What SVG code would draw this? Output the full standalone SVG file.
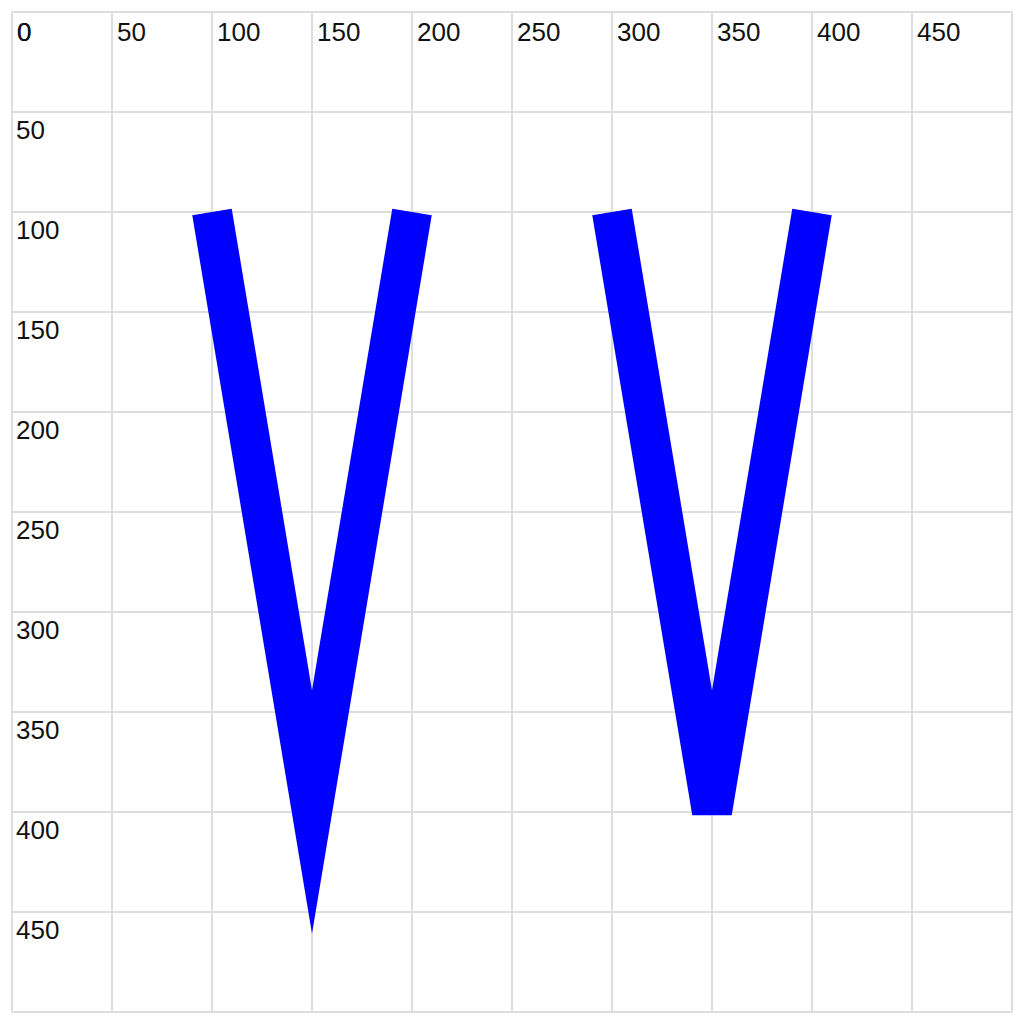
<svg xmlns="http://www.w3.org/2000/svg" width="1026" height="1024" viewBox="0 0 1026 1024">
<style>
.g{stroke:#dddddd;stroke-width:1;fill:none}
.t{font-family:"Liberation Sans",Arial,sans-serif;font-size:13px;fill:#111}
.v{fill:none;stroke:#0000ff;stroke-width:20}
</style>
<rect width="1026" height="1024" fill="#ffffff"/>
<g transform="translate(12,12) scale(2)">
<g id="grid">
<path class="g" d="M0,0V500M50,0V500M100,0V500M150,0V500M200,0V500M250,0V500M300,0V500M350,0V500M400,0V500M450,0V500M500,0V500"/>
<path class="g" d="M0,0H500M0,50H500M0,100H500M0,150H500M0,200H500M0,250H500M0,300H500M0,350H500M0,400H500M0,450H500M0,500H500"/>
</g>
<g id="labels">
<text class="t" x="2.5" y="14.5">0</text>
<text class="t" x="52.5" y="14.5">50</text>
<text class="t" x="102.5" y="14.5">100</text>
<text class="t" x="152.5" y="14.5">150</text>
<text class="t" x="202.5" y="14.5">200</text>
<text class="t" x="252.5" y="14.5">250</text>
<text class="t" x="302.5" y="14.5">300</text>
<text class="t" x="352.5" y="14.5">350</text>
<text class="t" x="402.5" y="14.5">400</text>
<text class="t" x="452.5" y="14.5">450</text>
<text class="t" x="2.5" y="14.5">0</text>
<text class="t" x="2" y="63.5">50</text>
<text class="t" x="2" y="113.5">100</text>
<text class="t" x="2" y="163.5">150</text>
<text class="t" x="2" y="213.5">200</text>
<text class="t" x="2" y="263.5">250</text>
<text class="t" x="2" y="313.5">300</text>
<text class="t" x="2" y="363.5">350</text>
<text class="t" x="2" y="413.5">400</text>
<text class="t" x="2" y="463.5">450</text>
</g>
<g id="miter-join">
<polyline class="v" points="100,100 150,400 200,100" stroke-linejoin="miter" stroke-miterlimit="8"/>
</g>
<g id="miter-fallback-join">
<polyline class="v" points="300,100 350,400 400,100" stroke-linejoin="miter" stroke-miterlimit="4"/>
</g>
</g>
</svg>
